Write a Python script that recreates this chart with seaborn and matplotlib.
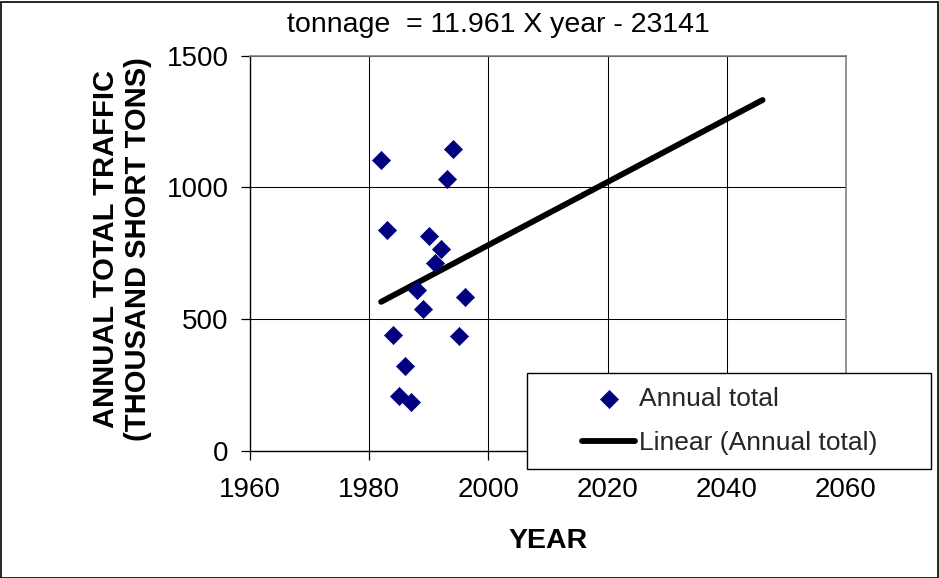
import numpy as np
import pandas as pd
import matplotlib
matplotlib.use("Agg")
import matplotlib.pyplot as plt
from matplotlib.patches import Rectangle
import seaborn as sns

# ---- data ----
years = [1982, 1983, 1984, 1985, 1986, 1987, 1988, 1989, 1990, 1991, 1992, 1993, 1994, 1995, 1996]
tonnage = [1103, 838, 440, 209, 321, 186, 610, 537, 816, 713, 765, 1030, 1145, 435, 584]
trend_slope = 11.961
trend_intercept = -23141
trend_years = [1982, 2046]
x_ticks = [1960, 1980, 2000, 2020, 2040, 2060]
y_ticks = [0, 500, 1000, 1500]
title_text = "tonnage  = 11.961 X year - 23141"
x_label = "YEAR"
y_label = "ANNUAL TOTAL TRAFFIC\n(THOUSAND SHORT TONS)"
scatter_name = "Annual total"
trend_name = "Linear (Annual total)"

sns.set_theme(style="white")
plt.rcParams["font.family"] = ["Liberation Sans", "DejaVu Sans"]

df = pd.DataFrame({"year": years, "tonnage": tonnage})
trend_df = pd.DataFrame({"year": trend_years})
trend_df["tonnage"] = trend_slope * trend_df["year"] + trend_intercept

W, H = 939, 578
fig = plt.figure(figsize=(W / 100, H / 100), dpi=100)
fig.patch.set_facecolor("white")
ax = fig.add_axes([250 / W, 1 - 451 / H, 596 / W, (451 - 55.5) / H])

sns.scatterplot(data=df, x="year", y="tonnage", ax=ax, marker="D", s=85,
                color="#000080", edgecolor="#000080", linewidth=0.5,
                label=scatter_name, zorder=3)
sns.lineplot(data=trend_df, x="year", y="tonnage", ax=ax, color="black",
             linewidth=4.2, label=trend_name, zorder=2.5,
             solid_capstyle="round")

ax.set_xlim(1960, 2060)
ax.set_ylim(0, 1500)
ax.set_xticks(x_ticks)
ax.set_yticks(y_ticks)
ax.grid(True, color="black", linewidth=0.75)
ax.set_axisbelow(True)
for side in ["left", "bottom"]:
    ax.spines[side].set_color("black")
    ax.spines[side].set_linewidth(1.0)
for side in ["top", "right"]:
    ax.spines[side].set_color("#808080")
    ax.spines[side].set_linewidth(1.2)
ax.tick_params(axis="both", which="major", direction="out", length=6.5, width=0.9,
               color="black", labelsize=20, labelcolor="black")
ax.tick_params(axis="x", bottom=True, pad=12)
ax.tick_params(axis="y", left=True, pad=9)

ax.set_xlabel(x_label, fontsize=20.5, fontweight="bold", color="black")
ax.xaxis.set_label_coords(0.5, (451 - 541) / (451 - 55.5))
ax.xaxis.label.set_va("center")
ax.set_ylabel(y_label, fontsize=21, fontweight="bold", color="black",
              multialignment="center", linespacing=1.15)
ax.yaxis.set_label_coords((122 - 250) / 596, 0.5 + (253 - 249) / 395.5)
ax.yaxis.label.set_va("center")

fig.text(498 / W, 1 - 25 / H, title_text, ha="center", va="center", fontsize=20.5,
         color="black")

# legend box
rect = Rectangle((527 / W, 1 - 469 / H), (931 - 527) / W, (469 - 373) / H,
                 transform=fig.transFigure, facecolor="white", edgecolor="black",
                 linewidth=1.0, clip_on=False, zorder=4.5)
ax.add_patch(rect)
handles, labels = ax.get_legend_handles_labels()
leg = ax.legend(handles, labels, loc="center", bbox_to_anchor=(730 / W, 1 - 421 / H),
                bbox_transform=fig.transFigure, frameon=False, fontsize=19,
                handlelength=2.0, handletextpad=0.15, labelspacing=0.75,
                markerscale=1.0)
leg.set_zorder(5)

# figure border
border = Rectangle((0.5 / W, 0.5 / H), 1 - 2 / W, 1 - 2 / H, transform=fig.transFigure,
                   facecolor="none", edgecolor="black", linewidth=1.2, zorder=10)
fig.patches.append(border)

fig.savefig("out.png", dpi=100)
